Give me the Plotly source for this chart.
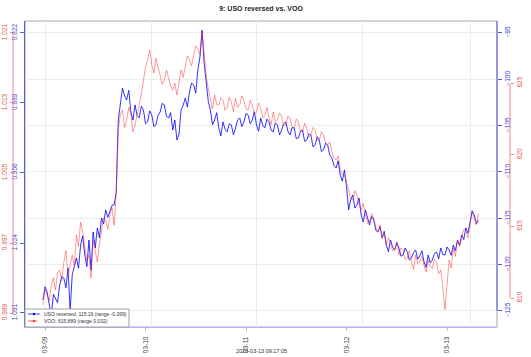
import numpy as np
import pandas as pd
import plotly.graph_objects as go

# ---------------- data (30-minute samples) ----------------
start_time = "2026-03-08 23:30"

uso_reversed = [
    -123.81, -122.40, -122.95, -124.30, -125.60, -123.20, -123.60, -124.10, -122.19, -121.30,
    -121.44, -122.50, -120.36, -125.00, -121.11, -120.10, -119.28, -120.40, -117.88, -116.90,
    -118.96, -120.20, -117.34, -120.60, -116.47, -118.20, -116.04, -117.10, -114.96, -115.60,
    -114.10, -114.90, -114.32, -113.60, -113.56, -112.20, -104.39, -102.50, -100.94, -101.80,
    -102.23, -101.20, -103.52, -104.40, -102.77, -103.90, -104.17, -102.90, -103.31, -104.80,
    -104.60, -103.40, -103.85, -105.10, -104.93, -103.90, -103.52, -102.60, -102.77, -104.00,
    -104.17, -103.60, -105.47, -104.40, -106.55, -105.90, -103.31, -102.80, -102.01, -103.00,
    -101.37, -100.40, -100.61, -101.50, -98.99, -97.60, -94.70, -98.20, -100.61, -102.40,
    -103.31, -104.90, -104.39, -103.60, -105.25, -106.10, -104.60, -105.40, -105.68, -104.80,
    -104.93, -106.00, -105.25, -104.40, -104.17, -105.10, -104.60, -103.70, -103.85, -104.80,
    -104.39, -103.50, -104.93, -105.60, -104.17, -105.00, -105.25, -104.30, -104.60, -105.50,
    -105.68, -104.70, -104.93, -106.00, -105.47, -104.80, -104.60, -105.60, -106.01, -105.20,
    -105.25, -106.40, -106.33, -105.60, -105.47, -106.70, -106.55, -105.90, -106.01, -107.30,
    -107.09, -106.20, -106.55, -107.80, -107.63, -106.90, -107.09, -108.20, -108.49, -109.30,
    -109.57, -108.80, -110.32, -111.00, -109.78, -111.60, -114.10, -113.00, -112.48, -113.90,
    -113.56, -112.80, -114.64, -115.40, -114.10, -114.90, -115.72, -114.80, -115.18, -116.30,
    -116.47, -115.90, -117.12, -116.40, -117.88, -118.60, -117.34, -118.10, -118.42, -117.60,
    -118.20, -119.10, -118.96, -118.20, -118.63, -119.50, -119.28, -118.70, -118.42, -119.40,
    -119.06, -118.50, -119.71, -120.30, -118.96, -119.80, -119.50, -118.80, -118.63, -119.40,
    -118.20, -118.90, -118.96, -118.10, -118.42, -119.00, -117.88, -118.50, -117.34, -117.90,
    -116.80, -117.30, -116.04, -116.60, -115.39, -114.20, -114.64, -115.60, -115.19,
]

voo = [
    609.51, 610.60, 610.21, 609.80, 610.90, 611.40, 610.56, 611.80, 611.95, 611.20,
    612.51, 613.30, 611.60, 612.40, 613.00, 612.20, 614.39, 613.60, 615.30, 614.60,
    613.70, 612.60, 613.00, 611.40, 614.04, 613.20, 612.51, 613.80, 614.74, 615.60,
    615.44, 614.80, 615.79, 616.30, 615.09, 617.20, 621.72, 622.80, 623.12, 621.90,
    622.42, 623.30, 622.77, 621.60, 622.07, 622.90, 623.46, 624.20, 625.21, 626.10,
    626.60, 627.30, 626.26, 625.70, 626.74, 626.10, 625.56, 624.90, 625.21, 625.90,
    625.35, 624.80, 624.51, 625.00, 624.16, 624.90, 625.91, 625.40, 626.26, 626.90,
    626.60, 626.20, 626.95, 627.60, 627.44, 627.00, 628.60, 626.80, 625.56, 624.60,
    623.81, 623.20, 624.16, 623.50, 623.46, 624.00, 623.81, 623.10, 623.26, 624.00,
    623.67, 623.00, 623.95, 623.30, 623.46, 624.10, 623.81, 623.20, 623.12, 623.80,
    623.46, 622.80, 622.98, 623.60, 623.26, 622.60, 622.77, 623.30, 622.56, 622.10,
    622.98, 622.30, 622.42, 622.90, 622.70, 622.00, 622.07, 622.70, 622.56, 621.90,
    621.86, 622.50, 622.28, 621.70, 621.58, 622.20, 621.86, 621.20, 621.37, 621.90,
    621.72, 621.00, 621.02, 621.60, 621.37, 620.80, 620.67, 620.90, 620.19, 619.80,
    619.63, 619.90, 619.07, 618.60, 618.58, 618.10, 617.53, 616.90, 616.84, 617.50,
    617.18, 616.50, 616.14, 616.60, 615.79, 615.20, 615.30, 615.90, 615.58, 614.90,
    614.60, 615.10, 614.18, 614.50, 613.70, 614.20, 613.90, 613.30, 613.35, 613.90,
    613.00, 613.50, 613.35, 612.70, 612.79, 613.30, 612.51, 612.00, 613.00, 612.40,
    612.51, 612.90, 612.30, 611.80, 612.65, 612.20, 612.09, 612.70, 612.51, 611.70,
    611.95, 610.80, 609.20, 611.00, 612.65, 612.10, 613.49, 612.90, 614.04, 613.60,
    614.18, 614.80, 614.74, 614.20, 615.09, 616.00, 615.58, 615.10, 615.889,
]

times = pd.date_range(start_time, periods=len(uso_reversed), freq="30min")

uso_label = "USO reversed: 115.19 (range -0.269)"
voo_label = "VOO: 615.889 (range 0.032)"
title_text = "9: USO reversed vs. VOO"
caption_text = "2026-03-13 09:17:05"

blue_left_ticks = [0.822, 0.889, 0.956, 1.024, 1.091]
red_left_ticks = [0.989, 0.997, 1.005, 1.013, 1.021]
x_tick_dates = ["2026-03-09", "2026-03-10", "2026-03-11", "2026-03-12", "2026-03-13"]
x_tick_text = ["03-09", "03-10", "03-11", "03-12", "03-13"]
x_grid_dates = ["2026-03-09 00:00", "2026-03-10 01:19", "2026-03-11 02:37",
                "2026-03-12 03:56", "2026-03-13 05:30"]

uso_ratio = np.array(uso_reversed) / uso_reversed[-1]
voo_ratio = np.array(voo) / voo[-1]

# ---------------- layout constants ----------------
W, H = 531, 357
T, B = 21, 30
PH = H - T - B
X0, X1 = 25 / W, 497 / W
BLUE = "#0000ff"
BLUE_AX = "#5a5ae0"
RED = "rgba(255,40,40,0.6)"
RED_AX = "#f08a8a"
GRID = "#ececec"
FONT = "Liberation Sans, Arial, sans-serif"
X_RANGE = ["2026-03-08 19:13:25", "2026-03-13 11:56:00"]


def px_x(p):
    return p / W


def px_y(p):
    return (H - B - p) / PH


blue_range = [-126.73, -93.71]
red_range = [607.98, 629.33]
blue_left_range = [1.1045, 0.8105]
red_left_range = [0.9874, 1.02237]

fig = go.Figure()

fig.add_trace(go.Scatter(x=times, y=uso_reversed, mode="lines",
                         line=dict(color=BLUE, width=0.8), yaxis="y",
                         showlegend=False, hoverinfo="skip"))
fig.add_trace(go.Scatter(x=times, y=voo, mode="lines",
                         line=dict(color=RED, width=0.8), yaxis="y2",
                         showlegend=False, hoverinfo="skip"))
# ratio series on the left axes (invisible, they only carry the scales)
fig.add_trace(go.Scatter(x=times, y=uso_ratio, mode="lines", opacity=0,
                         line=dict(width=0), xaxis="x2", yaxis="y3",
                         showlegend=False, hoverinfo="skip"))
fig.add_trace(go.Scatter(x=times, y=voo_ratio, mode="lines", opacity=0,
                         line=dict(width=0), yaxis="y4", showlegend=False, hoverinfo="skip"))

# ---------- compact legend (box, symbols, texts) ----------
leg_x0, leg_x1, leg_y0, leg_y1 = 25, 129, 309, 327
rows = [(314.0, "#1010ee", "solid", uso_label), (321.0, "#ff3030", "dash", voo_label)]
shapes = [
    dict(type="rect", xref="paper", yref="paper", x0=X0, x1=X1, y0=0, y1=1,
         line=dict(color="#a8a8a8", width=1), layer="below"),
    dict(type="line", xref="paper", yref="y", x0=X1, x1=X1,
         y0=-125, y1=blue_range[1], line=dict(color=BLUE_AX, width=1)),
    dict(type="line", xref="paper", yref="y2", x0=px_x(510), x1=px_x(510),
         y0=610, y1=625, line=dict(color=RED_AX, width=1)),
    dict(type="line", xref="paper", yref="y4", x0=px_x(13), x1=px_x(13),
         y0=red_left_ticks[0], y1=red_left_ticks[-1], line=dict(color=RED_AX, width=1)),
    dict(type="rect", xref="paper", yref="paper", x0=px_x(leg_x0), x1=px_x(leg_x1),
         y0=px_y(leg_y1), y1=px_y(leg_y0), fillcolor="white",
         line=dict(color="#a0a0a0", width=1), layer="above"),
]
annotations = [
    dict(text=caption_text, xref="paper", yref="paper", x=261 / W, y=px_y(351),
         xanchor="center", yanchor="middle", showarrow=False,
         font=dict(family=FONT, size=5.5, color="#333")),
]
for ry, col, dash, label in rows:
    shapes.append(dict(type="line", xref="paper", yref="paper", x0=px_x(28), x1=px_x(40),
                       y0=px_y(ry), y1=px_y(ry), line=dict(color=col, width=0.8, dash=dash)))
    shapes.append(dict(type="circle", xref="paper", yref="paper",
                       x0=px_x(32.8), x1=px_x(35.2), y0=px_y(ry + 1.2), y1=px_y(ry - 1.2),
                       fillcolor=col, line=dict(color=col, width=0)))
    annotations.append(dict(text=label, xref="paper", yref="paper", x=px_x(41.5), y=px_y(ry),
                            xanchor="left", yanchor="middle", showarrow=False,
                            font=dict(family=FONT, size=5, color="#333")))

fig.update_layout(
    width=W, height=H,
    margin=dict(l=0, r=0, t=T, b=B),
    paper_bgcolor="white", plot_bgcolor="white",
    font=dict(family=FONT, color="#333"),
    showlegend=False,
    title=dict(text="<b>" + title_text + "</b>", x=261 / W, xanchor="center",
               y=1 - 8.5 / H, yanchor="middle", font=dict(size=7, color="#222")),
    xaxis=dict(type="date", domain=[X0, X1], range=X_RANGE,
               tickvals=x_tick_dates, ticktext=x_tick_text, tickangle=-90,
               tickfont=dict(family=FONT, size=6.5, color="#444"),
               ticklabelstandoff=3,
               showgrid=False,
               showline=True, linecolor="#b4b4ff", linewidth=1,
               ticks="outside", ticklen=3, tickcolor="#b4b4ff", zeroline=False),
    xaxis2=dict(type="date", overlaying="x", anchor="y3", range=X_RANGE,
                tickvals=x_grid_dates, showticklabels=False, ticks="",
                showgrid=True, gridcolor=GRID, gridwidth=1,
                showline=False, zeroline=False),
    yaxis=dict(side="right", anchor="x", range=blue_range, dtick=5, tick0=-95,
               tickangle=-90, tickfont=dict(family=FONT, size=6.5, color="#3333dd"),
               showgrid=True, gridcolor=GRID, gridwidth=1, zeroline=False,
               showline=False, ticks="outside", ticklen=4, tickcolor=BLUE_AX),
    yaxis2=dict(overlaying="y", anchor="free", position=px_x(510), side="right",
                range=red_range, dtick=5, tick0=610, tickangle=-90,
                tickfont=dict(family=FONT, size=6.5, color="#e05555"),
                showgrid=False, zeroline=False, showline=False,
                ticks="outside", ticklen=3, tickcolor=RED_AX),
    yaxis3=dict(overlaying="y", anchor="x", side="left", range=blue_left_range,
                tickvals=blue_left_ticks, ticktext=[f"{v:.3f}" for v in blue_left_ticks],
                tickangle=-90, tickfont=dict(family=FONT, size=6.5, color="#4444dd"),
                showgrid=False, zeroline=False, showline=True, linecolor=BLUE_AX,
                linewidth=1, ticks="outside", ticklen=4, tickcolor=BLUE_AX),
    yaxis4=dict(overlaying="y", anchor="free", position=px_x(13), side="left",
                range=red_left_range,
                tickvals=red_left_ticks, ticktext=[f"{v:.3f}" for v in red_left_ticks],
                tickangle=-90, tickfont=dict(family=FONT, size=6.5, color="#e05555"),
                showgrid=False, zeroline=False, showline=False,
                ticks="outside", ticklen=3, tickcolor=RED_AX),
    shapes=shapes,
    annotations=annotations,
)

# remove the browser's default 8px page margin so the figure fills the window exactly
fig.write_html("out.html",
               config={"displayModeBar": False},
               post_script="document.body.style.margin='0px';document.body.style.overflow='hidden';")
